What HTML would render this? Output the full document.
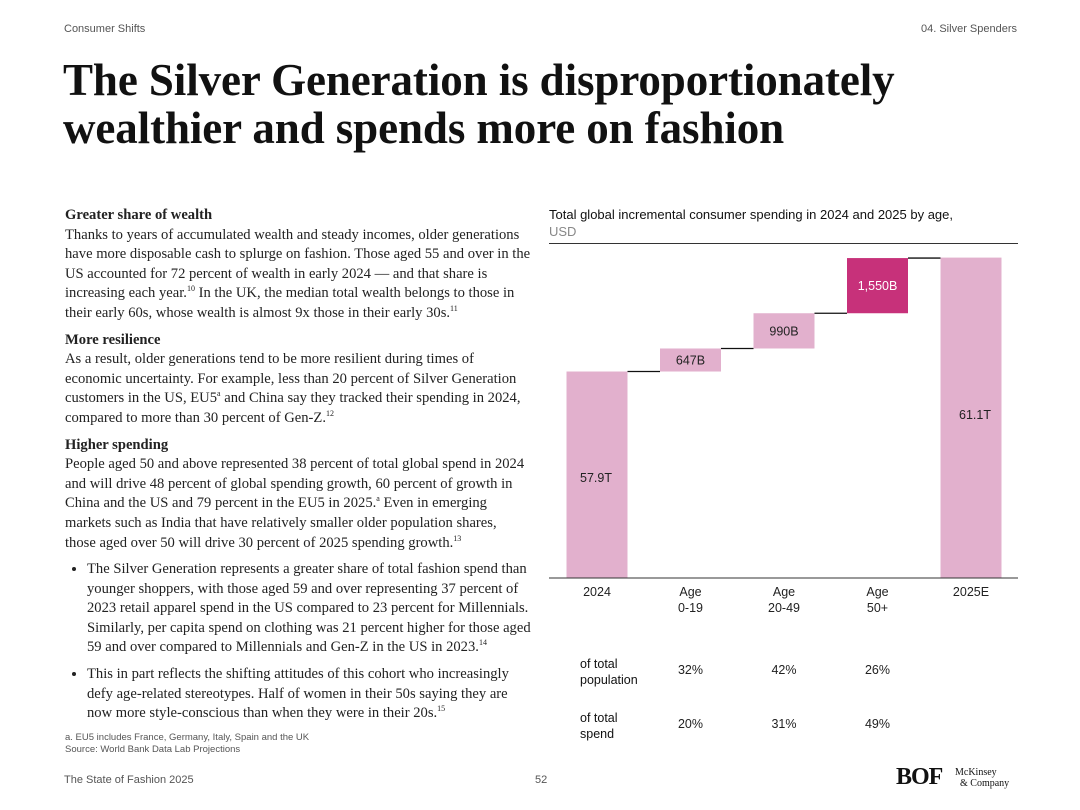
<!DOCTYPE html>
<html><head><meta charset="utf-8">
<style>
body{margin:0;width:1080px;height:810px;background:#fff;position:relative;overflow:hidden;font-family:"Liberation Sans",sans-serif;color:#111}
.a{position:absolute}
.hdr{font-size:11px;color:#555;top:23px}
h1{position:absolute;left:63px;top:56px;margin:0;font-family:"Liberation Serif",serif;font-size:45px;line-height:48px;font-weight:bold;letter-spacing:-0.1px;color:#111}
.body{left:65px;top:206px;width:480px;font-family:"Liberation Serif",serif;font-size:14.6px;line-height:19.6px;color:#222;white-space:nowrap}
.body p{margin:0 0 7px 0}
.body b{font-weight:bold}
.body ul{margin:0;padding-left:22px}
.body li{margin-bottom:7px}
sup{font-size:8px;line-height:0}
.foot{font-size:9.5px;color:#555;left:65px}
.row{font-size:12.5px;line-height:16px}
</style></head><body>
<div class="a hdr" style="left:64px">Consumer Shifts</div>
<div class="a hdr" style="right:63px">04. Silver Spenders</div>
<h1>The Silver Generation is disproportionately<br>wealthier and spends more on fashion</h1>
<div class="a body">
<p><b>Greater share of wealth</b><br>Thanks to years of accumulated wealth and steady incomes, older generations<br>have more disposable cash to splurge on fashion. Those aged 55 and over in the<br>US accounted for 72 percent of wealth in early 2024 — and that share is<br>increasing each year.<sup>10</sup> In the UK, the median total wealth belongs to those in<br>their early 60s, whose wealth is almost 9x those in their early 30s.<sup>11</sup></p>
<p><b>More resilience</b><br>As a result, older generations tend to be more resilient during times of<br>economic uncertainty. For example, less than 20 percent of Silver Generation<br>customers in the US, EU5<sup>a</sup> and China say they tracked their spending in 2024,<br>compared to more than 30 percent of Gen-Z.<sup>12</sup></p>
<p><b>Higher spending</b><br>People aged 50 and above represented 38 percent of total global spend in 2024<br>and will drive 48 percent of global spending growth, 60 percent of growth in<br>China and the US and 79 percent in the EU5 in 2025.<sup>a</sup> Even in emerging<br>markets such as India that have relatively smaller older population shares,<br>those aged over 50 will drive 30 percent of 2025 spending growth.<sup>13</sup></p>
<ul>
<li>The Silver Generation represents a greater share of total fashion spend than<br>younger shoppers, with those aged 59 and over representing 37 percent of<br>2023 retail apparel spend in the US compared to 23 percent for Millennials.<br>Similarly, per capita spend on clothing was 21 percent higher for those aged<br>59 and over compared to Millennials and Gen-Z in the US in 2023.<sup>14</sup></li>
<li>This in part reflects the shifting attitudes of this cohort who increasingly<br>defy age-related stereotypes. Half of women in their 50s saying they are<br>now more style-conscious than when they were in their 20s.<sup>15</sup></li>
</ul></div>
<div class="a foot" style="top:732px">a. EU5 includes France, Germany, Italy, Spain and the UK</div>
<div class="a foot" style="top:744px">Source: World Bank Data Lab Projections</div>
<div class="a" style="left:64px;top:774px;font-size:11px;color:#555">The State of Fashion 2025</div>
<div class="a" style="left:535px;top:774px;font-size:11px;color:#555">52</div>
<div class="a" style="left:896px;top:764px;font-family:'Liberation Serif',serif;font-size:24px;font-weight:bold;letter-spacing:-1px">BOF</div>
<div class="a" style="left:955px;top:767px;font-family:'Liberation Serif',serif;font-size:10px;line-height:11px">McKinsey<br>&nbsp;&nbsp;&amp; Company</div>

<div class="a" style="left:549px;top:206px;font-size:13px;line-height:17px">Total global incremental consumer spending in 2024 and 2025 by age,<br><span style="color:#888">USD</span></div>
<div class="a" style="left:549px;top:243px;width:469px;height:1px;background:#333"></div>
<svg class="a" style="left:0;top:0" width="1080" height="810" id="chart"></svg>
<div class="a row" style="left:580px;top:656px">of total<br>population</div>
<div class="a row" style="left:580px;top:710px">of total<br>spend</div>
<script>
const categories=["2024","Age\n0-19","Age\n20-49","Age\n50+","2025E"];
const values=[57.9,0.647,0.99,1.55,61.1];
const valueLabels=["57.9T","647B","990B","1,550B","61.1T"];
const popShare=["32%","42%","26%"];
const spendShare=["20%","31%","49%"];
const NS="http://www.w3.org/2000/svg";
const svg=document.getElementById('chart');
const y0=578, axisMin=52.1, pxPer=35.6;
const y=v=>y0-(v-axisMin)*pxPer;
const xc=i=>597+i*93.5;
const bw=61;
function el(t,a){const e=document.createElementNS(NS,t);for(const k in a)e.setAttribute(k,a[k]);svg.appendChild(e);return e;}
let cum=values[0];
let tops=[];
categories.forEach((c,i)=>{
 let lo,hi;
 if(i===0){lo=axisMin;hi=values[0];}
 else if(i===categories.length-1){lo=axisMin;hi=values[i];}
 else{lo=cum;hi=cum+values[i];cum=hi;}
 const hl=i===3;
 const r=el('rect',{x:xc(i)-bw/2,y:y(hi),width:bw,height:y(lo)-y(hi),fill:hl?'#c7317a':'#e2b0cd'});
 
 
 tops.push(hi);
 const ly=(i===0||i===4)?(i===0?482:419):(y(hi)+y(lo))/2+4.5;
 const t=el('text',{x:(i===0)?xc(i)-17:(i===4?xc(i)+20:xc(i)),y:ly,'text-anchor':i===0?'start':(i===4?'end':'middle'),'font-size':12.5,fill:hl?'#fff':'#222','font-family':'Liberation Sans, sans-serif'});
 t.textContent=valueLabels[i];
 
 
 c.split('\n').forEach((s,j)=>{
  const tt=el('text',{x:xc(i),y:596+j*16,'text-anchor':'middle','font-size':12.5,fill:'#222','font-family':'Liberation Sans, sans-serif'});
  tt.textContent=s;
  
  
 });
});
for(let i=0;i<categories.length-1;i++){
 const l=el('line',{x1:xc(i)+bw/2,x2:xc(i+1)-bw/2,y1:y(tops[i]),y2:y(tops[i]),stroke:'#111','stroke-width':1.3});
 
 
}
const ax=el('line',{x1:549,x2:1018,y1:y0,y2:y0,stroke:'#333','stroke-width':1});


[popShare,spendShare].forEach((arr,r)=>arr.forEach((s,i)=>{
 const t=el('text',{x:xc(i+1),y:674+r*54,'text-anchor':'middle','font-size':12.5,fill:'#222','font-family':'Liberation Sans, sans-serif'});
 t.textContent=s;
 
 
}));
</script>
</body></html>
